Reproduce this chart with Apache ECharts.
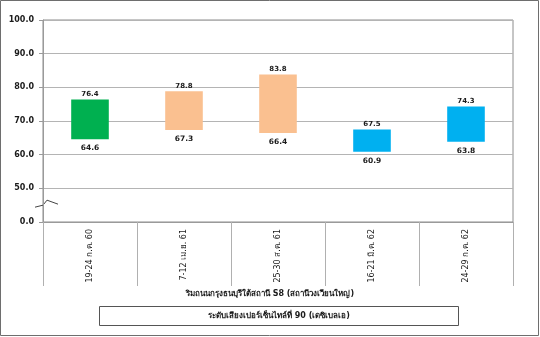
<!DOCTYPE html>
<html><head><meta charset="utf-8">
<script src="https://cdn.jsdelivr.net/npm/echarts@6/dist/echarts.min.js"></script>
<style>html,body{margin:0;padding:0;background:#fff}#c{width:540px;height:337px}</style>
</head><body><div id="c"></div>
<script>
var categories = ['19-24 ก.ค. 60', '7-12 เม.ย. 61', '25-30 ส.ค. 61', '16-21 มี.ค. 62', '24-29 ก.ค. 62'];
var lowValues = [64.6, 67.3, 66.4, 60.9, 63.8];
var highValues = [76.4, 78.8, 83.8, 67.5, 74.3];
var barColors = ['#00B050', '#FAC090', '#FAC090', '#00B0F0', '#00B0F0'];
var yTickLabels = {40: '0.0', 50: '50.0', 60: '60.0', 70: '70.0', 80: '80.0', 90: '90.0', 100: '100.0'};
var subTitle = 'ริมถนนกรุงธนบุรีใต้สถานี S8 (สถานีวงเวียนใหญ่)';
var boxTitle = 'ระดับเสียงเปอร์เซ็นไทล์ที่ 90 (เดซิเบลเอ)';

var FONT = 'Tahoma, "DejaVu Sans", "Noto Sans", sans-serif';
var chart = echarts.init(document.getElementById('c'));
var spans = highValues.map(function (h, i) { return +(h - lowValues[i]).toFixed(1); });

var option = {
  animation: false,
  grid: { left: 43, right: 27, top: 20, bottom: 115, show: true, borderColor: '#8c8c8c', borderWidth: 1 },
  xAxis: {
    type: 'category', data: categories,
    axisLine: { lineStyle: { color: '#9a9a9a' } },
    axisTick: { show: true, length: 64, lineStyle: { color: '#b0b0b0' } },
    axisLabel: { rotate: 90, fontSize: 8, color: '#1a1a1a', fontFamily: FONT, margin: 7 }
  },
  yAxis: {
    type: 'value', min: 40, max: 100, interval: 10,
    axisLine: { show: true, lineStyle: { color: '#9a9a9a' } },
    axisTick: { show: true, length: 4, lineStyle: { color: '#9a9a9a' } },
    splitLine: { lineStyle: { color: '#b4b4b4', width: 1 } },
    axisLabel: {
      fontSize: 8, fontWeight: 'bold', color: '#1a1a1a', fontFamily: FONT, margin: 9,
      formatter: function (v) { return yTickLabels[v] || ''; }
    }
  },
  series: [
    {
      type: 'bar', stack: 's', data: lowValues, barWidth: '40%',
      itemStyle: { color: 'rgba(0,0,0,0)' },
      label: {
        show: true, position: 'insideTop', distance: 5, fontSize: 7.5, fontWeight: 'bold',
        color: '#1a1a1a', fontFamily: FONT,
        formatter: function (p) { return lowValues[p.dataIndex].toFixed(1); }
      }
    },
    {
      type: 'bar', stack: 's', barWidth: '40%',
      data: spans.map(function (v, i) { return { value: v, itemStyle: { color: barColors[i] } }; }),
      label: {
        show: true, position: 'top', distance: 2, fontSize: 7, fontWeight: 'bold',
        color: '#1a1a1a', fontFamily: FONT,
        formatter: function (p) { return highValues[p.dataIndex].toFixed(1); }
      }
    }
  ],
  graphic: [
    { type: 'rect', shape: { x: 0.5, y: 0.5, width: 538, height: 335 }, style: { fill: 'none', stroke: '#6e6e6e', lineWidth: 1 }, silent: true },
    { type: 'text', left: 'center', top: 290, style: { text: subTitle, font: 'bold 8px ' + FONT, fill: '#1a1a1a' } },
    { type: 'rect', shape: { x: 99.5, y: 306.5, width: 359, height: 19 }, style: { fill: '#fff', stroke: '#555', lineWidth: 1 } },
    { type: 'text', x: 279, y: 316, style: { text: boxTitle, font: 'bold 8px ' + FONT, fill: '#1a1a1a', align: 'center', verticalAlign: 'middle' } }
  ]
};
chart.setOption(option);

// axis break marker (between 0 and 50)
var p = chart.convertToPixel({ gridIndex: 0 }, [0, 45]);
var x0 = 43, y0 = p[1];
chart.setOption({
  graphic: option.graphic.concat([
    { type: 'polyline', shape: { points: [[x0 - 8, y0 + 2], [x0, y0], [x0 + 4, y0 - 5], [x0 + 15, y0 - 1]] },
      style: { fill: 'none', stroke: '#444', lineWidth: 1 } }
  ])
});
</script></body></html>
